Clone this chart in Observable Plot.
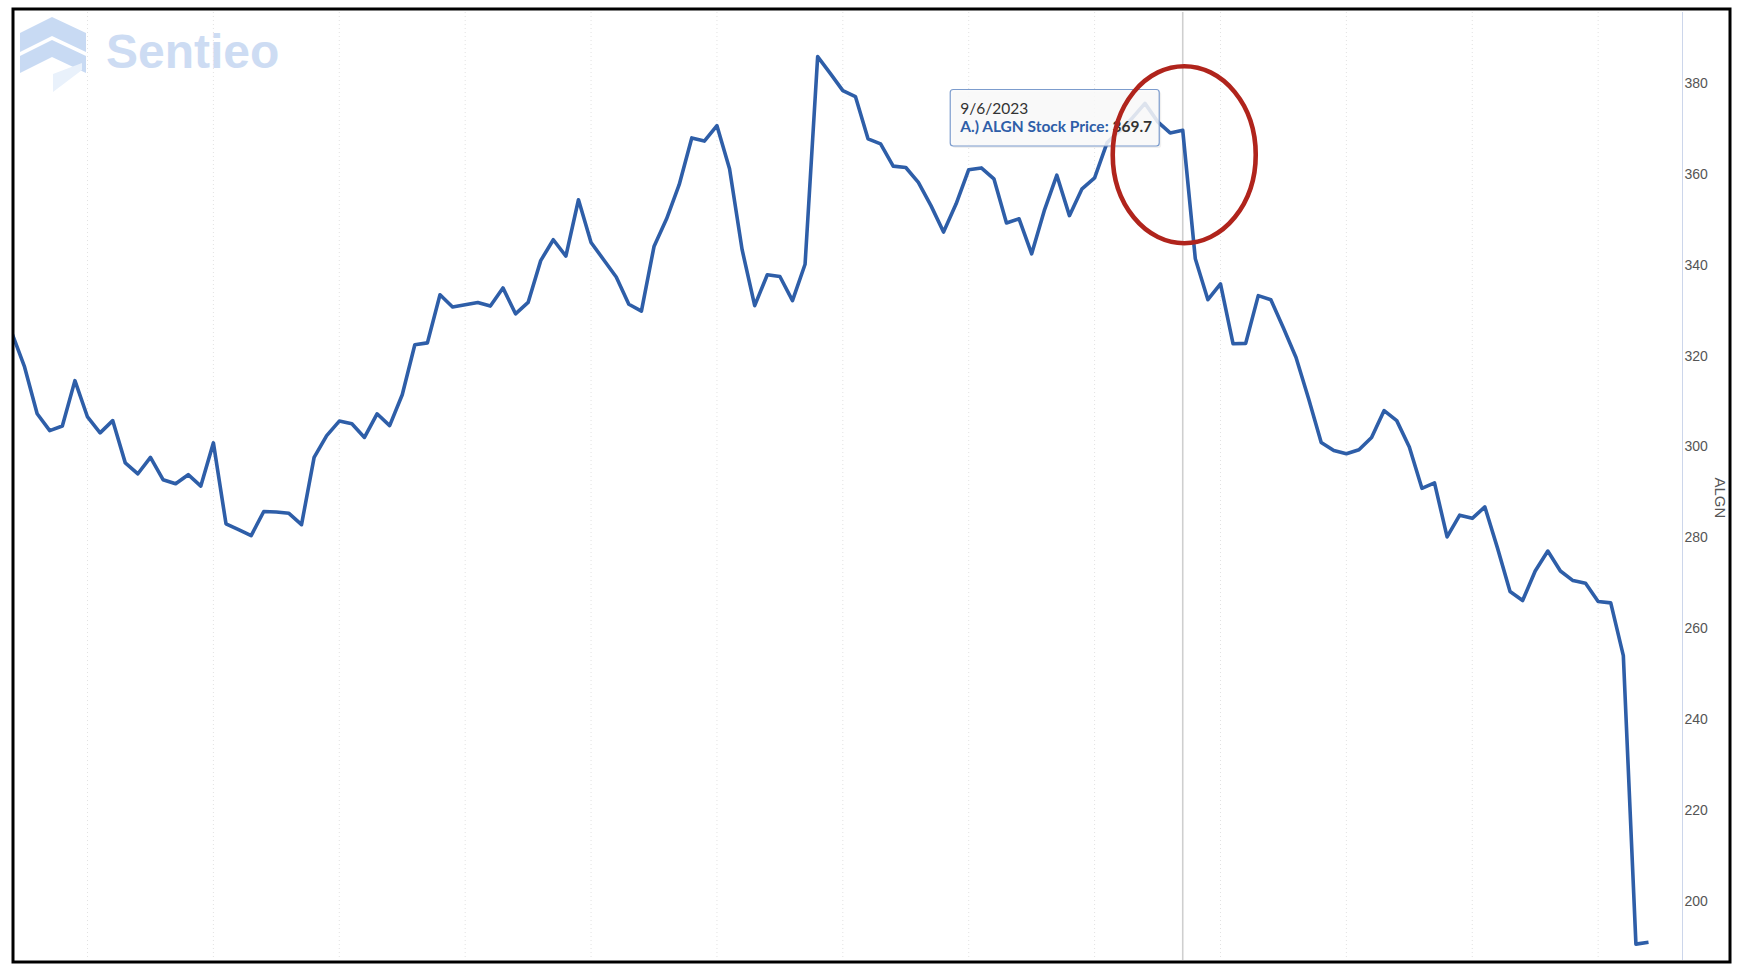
<!DOCTYPE html>
<html>
<head>
<meta charset="utf-8">
<script src="https://cdn.jsdelivr.net/npm/d3@7"></script>
<script src="https://cdn.jsdelivr.net/npm/@observablehq/plot@0.6"></script>
<style>
  html, body { margin: 0; padding: 0; background: #fff; }
  #chart { position: relative; width: 1744px; height: 972px; }
</style>
</head>
<body>
<div id="chart"></div>
<script>
// ALGN daily close, index 0 .. 130 (last two sessions after the Q3 drop)
const prices = [
  325.0, 317.6, 307.3, 303.6, 304.6, 314.6, 306.6, 303.1, 305.8, 296.5,
  294.1, 297.7, 292.8, 291.9, 293.9, 291.4, 300.9, 283.1, 281.8, 280.5,
  285.8, 285.7, 285.4, 282.9, 297.7, 302.5, 305.7, 305.1, 302.1, 307.3,
  304.7, 311.5, 322.5, 322.9, 333.5, 330.8, 331.3, 331.8, 331.0, 335.0,
  329.3, 331.8, 341.0, 345.6, 342.0, 354.4, 345.0, 341.2, 337.4, 331.4,
  329.9, 344.1, 350.2, 357.7, 368.0, 367.3, 370.7, 361.2, 343.4, 331.1,
  337.9, 337.5, 332.2, 340.2, 385.9, 382.2, 378.4, 377.1, 367.8, 366.7,
  361.8, 361.5, 358.2, 353.1, 347.3, 353.5, 361.0, 361.4, 359.0, 349.3,
  350.2, 342.5, 352.0, 359.8, 350.9, 356.8, 359.2, 367.0, 369.6, 372.4,
  375.6, 371.6, 369.1, 369.7, 341.4, 332.4, 335.9, 322.7, 322.8, 333.3,
  332.4, 326.2, 319.7, 310.6, 301.0, 299.2, 298.5, 299.4, 302.1, 308.0,
  305.8, 300.0, 290.9, 292.1, 280.2, 285.0, 284.3, 286.8, 277.8, 268.2,
  266.2, 272.7, 277.1, 272.7, 270.6, 270.0, 266.0, 265.7, 254.1, 190.6,
  191.0
];
const yTicks = [200, 220, 240, 260, 280, 300, 320, 340, 360, 380];
const gridTicks = [6, 16, 26, 36, 46, 56, 66, 76, 86, 96, 106, 116, 126];
const hoverIndex = [93];
const hoverDate = "9/6/2023";
const seriesName = "A.) ALGN Stock Price: ";
const hoverValue = "369.7";
const axisTitle = "ALGN";
const brand = "Sentieo";

const data = prices.map((v, i) => ({i, v}));

const plot = Plot.plot({
  width: 1744,
  height: 972,
  marginLeft: 14,
  marginRight: 62,
  marginTop: 12,
  marginBottom: 12,
  style: {background: "transparent", color: "#555", fontFamily: "'Liberation Sans', Arial, sans-serif"},
  x: {domain: [0.2, 132.7], axis: null},
  y: {domain: [187, 395.6], axis: null},
  marks: [
    Plot.ruleX(gridTicks, {stroke: "#e2e2e2", strokeWidth: 1, strokeDasharray: "1,3"}),
    Plot.ruleX(hoverIndex, {stroke: "#cfcfcf", strokeWidth: 1.6}),
    Plot.ruleX([132.7], {stroke: "#ccd6eb", strokeWidth: 1}),
    Plot.line(data, {x: "i", y: "v", stroke: "#2e5ea8", strokeWidth: 3.6, strokeLinejoin: "round", strokeLinecap: "butt", clip: true}),
    Plot.axisY(yTicks, {anchor: "right", tickSize: 0, tickPadding: 2, fontSize: 14, fill: "#555", label: null}),
    Plot.frame({stroke: "#000", strokeWidth: 3, insetLeft: -1.5, insetRight: -47.5, insetTop: -3.5, insetBottom: -1.5})
  ]
});

document.getElementById("chart").appendChild(plot);

const svg = d3.select(plot);
const xs = plot.scale("x");
const ys = plot.scale("y");
const sans = "'Liberation Sans', Arial, sans-serif";

// Axis title on the right, reading downward
svg.append("text")
  .attr("transform", `translate(1720,${ys.apply(288.7)}) rotate(90)`)
  .attr("text-anchor", "middle").attr("dy", "0.35em")
  .attr("font-family", sans).attr("font-size", 15).attr("fill", "#555")
  .text(axisTitle);

// Watermark logo
const logo = svg.insert("g", ":first-child").attr("class", "logo");
logo.append("path").attr("d", "M20,33 L52,17 L86,33 L86,52 L52,36 L20,52 Z").attr("fill", "#c8daf3");
logo.append("path").attr("d", "M20,56 L52,40 L86,56 L86,73 L52,57 L20,73 Z").attr("fill", "#c8daf3");
logo.append("path").attr("d", "M53,74 L82,63 L82,70 L53,92 Z").attr("fill", "#e9f1fb");
logo.append("text").attr("x", 106).attr("y", 68).attr("text-anchor", "start")
  .attr("font-family", sans).attr("font-weight", 700)
  .attr("font-size", 48).attr("fill", "#cddcf3").text(brand);

// Tooltip box, anchored on the hovered point
const px = xs.apply(hoverIndex[0]);
const tip = svg.append("g").attr("class", "tooltip").attr("text-anchor", "start");
const bx = px - 232, by = 89.5, bw = 209, bh = 56.5;
tip.append("rect").attr("x", bx + 2).attr("y", by + 2).attr("width", bw).attr("height", bh)
  .attr("rx", 3).attr("fill", "rgba(0,0,0,0.06)");
tip.append("rect").attr("x", bx).attr("y", by).attr("width", bw).attr("height", bh)
  .attr("rx", 3).attr("fill", "rgba(250,250,250,0.86)").attr("stroke", "#7c9ccd").attr("stroke-width", 1.2);
tip.append("text").attr("x", bx + 10).attr("y", by + 24)
  .attr("font-family", "Lato, 'Open Sans', sans-serif").attr("font-size", 15.5).attr("fill", "#333")
  .text(hoverDate);
const t2 = tip.append("text").attr("x", bx + 10).attr("y", by + 42)
  .attr("font-family", "Lato, 'Open Sans', sans-serif").attr("font-size", 15.5);
t2.append("tspan").attr("fill", "#2e5ea8").attr("font-weight", 700).text(seriesName);
t2.append("tspan").attr("fill", "#333").attr("font-weight", 700).text(hoverValue);

// Red annotation ellipse around the drop
svg.append("ellipse")
  .attr("cx", px + 2).attr("cy", ys.apply(364.2))
  .attr("rx", 71.5).attr("ry", 88.5)
  .attr("fill", "none").attr("stroke", "#b0241c").attr("stroke-width", 4.6);
</script>
</body>
</html>
